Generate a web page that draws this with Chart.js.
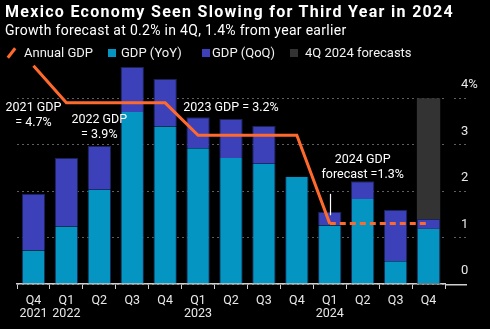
<!DOCTYPE html>
<html>
<head>
<meta charset="utf-8">
<script src="https://cdn.jsdelivr.net/npm/chart.js@4.4.1/dist/chart.umd.min.js"></script>
<style>
  html, body { margin: 0; padding: 0; background: #000; }
  body { width: 490px; height: 329px; position: relative; overflow: hidden;
         font-family: Roboto, "Liberation Sans", sans-serif; color: #fff; }
  #chart { position: absolute; left: 0; top: 0; }
  .title { position: absolute; left: 5px; top: 2px; font-size: 16px; font-weight: bold; white-space: nowrap; line-height: 20px; letter-spacing: 1.3px; }
  .subtitle { position: absolute; left: 5px; top: 21px; font-size: 14px; white-space: nowrap; line-height: 18px; letter-spacing: 0.3px; }
  .legend { position: absolute; left: 0; top: 44px; width: 490px; height: 18px; font-size: 13px; line-height: 18px; }
  .legend .txt { position: absolute; top: 0; white-space: nowrap; color: #f2f2f2; }
  .legend .sw { position: absolute; top: 5px; width: 8px; height: 8px; }
  .legend .slash { position: absolute; left: 10px; top: 3px; width: 3px; height: 12px; background: #ff6a2c; transform: rotate(38deg); }
</style>
</head>
<body>
<canvas id="chart" width="490" height="329"></canvas>
<div class="title">Mexico Economy Seen Slowing for Third Year in 2024</div>
<div class="subtitle">Growth forecast at 0.2% in 4Q, 1.4% from year earlier</div>
<div class="legend">
  <span class="slash"></span><span class="txt" style="left:24px">Annual GDP</span>
  <span class="sw" style="left:108px;background:#0595c3"></span><span class="txt" style="left:121px">GDP (YoY)</span>
  <span class="sw" style="left:202px;background:#3c40b9"></span><span class="txt" style="left:212px">GDP (QoQ)</span>
  <span class="sw" style="left:290px;background:#333333"></span><span class="txt" style="left:305px">4Q 2024 forecasts</span>
</div>
<script>
// quarters, Q4 2021 .. Q4 2024
const quarters = ['Q4 2021', 'Q1 2022', 'Q2 2022', 'Q3 2022', 'Q4 2022', 'Q1 2023', 'Q2 2023',
                  'Q3 2023', 'Q4 2023', 'Q1 2024', 'Q2 2024', 'Q3 2024', 'Q4 2024'];
const tickLabels = [['Q4', '2021'], ['Q1', '2022'], 'Q2', 'Q3', 'Q4', ['Q1', '2023'], 'Q2', 'Q3', 'Q4',
                    ['Q1', '2024'], 'Q2', 'Q3', 'Q4'];

// GDP growth, % (QoQ segment sits on top of YoY)
const gdpYoY = [0.72, 1.24, 2.03, 3.70, 3.39, 2.92, 2.71, 2.59, 2.31, 1.26, 1.83, 0.49, 1.19];
const gdpQoQ = [1.22, 1.47, 0.94, 0.97, 1.02, 0.67, 0.84, 0.81, 0, 0.29, 0.38, 1.11, 0.21];
// annual GDP step line: 2021 4.7, 2022 3.9, 2023 3.2, 2024 forecast 1.3
const annualGdp = [4.7, 3.9, 3.9, 3.9, 3.9, 3.2, 3.2, 3.2, 3.2, 1.3, 1.3, 1.3, 1.3];
const forecastBand = [null, null, null, null, null, null, null, null, null, null, null, null, 4];
const forecastFrom = 9; // line is dashed from Q1 2024 on

const yTicks = [0, 1, 2, 3, 4];

// text labels on the plot, placed by category index and value
const notes = [
  { i: 0, y: 3.79, lines: ['2021 GDP', '= 4.7%'] },
  { i: 2, y: 3.54, lines: ['2022 GDP', '= 3.9%'] },
  { i: 6, y: 3.80, lines: ['2023 GDP = 3.2%'] },
  { i: 10, y: 2.68, lines: ['2024 GDP', 'forecast =1.3%'] }
];
const pointer = { i: 9, from: 1.94, to: 1.48 };

const FONT = 'Roboto, "Liberation Sans", sans-serif';

const notesPlugin = {
  id: 'notes',
  afterDatasetsDraw(chart) {
    const { ctx, scales: { x, y }, chartArea } = chart;
    ctx.save();
    // x axis line runs on under the value labels
    ctx.strokeStyle = '#cfcfcf';
    ctx.lineWidth = 1.5;
    ctx.beginPath();
    ctx.moveTo(chartArea.right, chartArea.bottom + 0.75);
    ctx.lineTo(chart.width - 23, chartArea.bottom + 0.75);
    ctx.stroke();

    ctx.fillStyle = '#ffffff';
    ctx.font = '12.5px ' + FONT;
    ctx.textAlign = 'center';
    ctx.textBaseline = 'middle';
    notes.forEach(n => {
      const cx = x.getPixelForValue(n.i);
      const cy = y.getPixelForValue(n.y);
      n.lines.forEach((t, k) => ctx.fillText(t, cx, cy + k * 15));
    });

    const px = Math.round(x.getPixelForValue(pointer.i)) + 0.5;
    ctx.strokeStyle = '#ffffff';
    ctx.lineWidth = 1.2;
    ctx.beginPath();
    ctx.moveTo(px, y.getPixelForValue(pointer.from));
    ctx.lineTo(px, y.getPixelForValue(pointer.to));
    ctx.stroke();
    ctx.restore();
  }
};

new Chart(document.getElementById('chart'), {
  data: {
    labels: tickLabels,
    datasets: [
      {
        type: 'line', label: 'Annual GDP', data: annualGdp, stack: 'annual', order: 0,
        borderColor: '#ff6a2c', borderWidth: 3, pointRadius: 0, tension: 0,
        borderCapStyle: 'butt',
        segment: { borderDash: c => c.p0DataIndex >= forecastFrom ? [6, 4] : undefined }
      },
      {
        type: 'bar', label: 'GDP (YoY)', data: gdpYoY, stack: 'gdp', order: 2, grouped: false,
        backgroundColor: '#0595c3', borderColor: '#1b2c58',
        borderWidth: { left: 1, right: 1, top: 0, bottom: 0 },
        barPercentage: 0.71, categoryPercentage: 1
      },
      {
        type: 'bar', label: 'GDP (QoQ)', data: gdpQoQ, stack: 'gdp', order: 2, grouped: false,
        backgroundColor: '#3c40b9', borderColor: '#1b2458',
        borderWidth: { left: 1, right: 1, top: 1, bottom: 0 },
        barPercentage: 0.71, categoryPercentage: 1
      },
      {
        type: 'bar', label: '4Q 2024 forecasts', data: forecastBand, stack: 'fc', order: 3, grouped: false,
        backgroundColor: '#333333', borderWidth: 0,
        barPercentage: 0.71, categoryPercentage: 1
      }
    ]
  },
  options: {
    responsive: false,
    animation: false,
    layout: { padding: { left: 17, top: 61, right: 0, bottom: 0 } },
    plugins: { legend: { display: false }, tooltip: { enabled: false } },
    scales: {
      x: {
        stacked: true,
        offset: true,
        afterFit: s => { s.height = 45; },
        grid: { display: true, drawOnChartArea: false, drawTicks: true, tickLength: 5, color: '#cfcfcf', lineWidth: 1 },
        border: { display: true, color: '#cfcfcf', width: 1.5 },
        ticks: { color: '#e8e8e8', font: { family: FONT, size: 12.5, lineHeight: 1.07 },
                 maxRotation: 0, autoSkip: false, padding: 5 }
      },
      y: {
        stacked: true,
        position: 'right',
        min: 0, max: 4.8,
        afterFit: s => { s.width = 45; },
        afterBuildTicks: s => { s.ticks = yTicks.map(v => ({ value: v })); },
        grid: { color: '#5e5e5e', lineWidth: 1, drawTicks: true, tickLength: 22,
                tickColor: '#5e5e5e', tickBorderDash: [0, 9, 2, 3, 2, 3, 2, 3, 2, 30] },
        border: { display: false, dash: [2, 3] },
        ticks: { color: '#e8e8e8', font: { family: FONT, size: 13 }, padding: -6, labelOffset: -13,
                 callback: v => v === 4 ? '4%' : String(v) }
      }
    }
  },
  plugins: [notesPlugin]
});
</script>
</body>
</html>
